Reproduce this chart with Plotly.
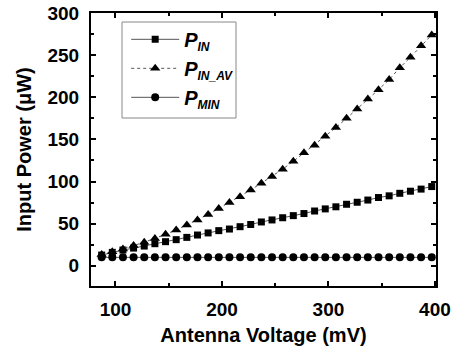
import plotly.graph_objects as go

voltage = [87, 97, 107, 117, 127, 137, 147, 157, 167, 177, 187, 197, 207, 217, 227, 237,
           247, 257, 267, 277, 287, 297, 307, 317, 327, 337, 347, 357, 367, 377, 387, 397]
p_in = [12.7, 15.9, 18.7, 21.0, 23.4, 26.2, 28.6, 31.0, 33.7, 36.5, 39.0, 41.7, 43.6, 46.4,
        49.0, 52.0, 54.4, 57.0, 59.5, 62.0, 65.0, 67.5, 70.0, 73.0, 75.4, 78.0, 81.0, 83.0,
        86.0, 88.5, 91.0, 94.0]
p_in_av = [13.5, 16.7, 20.0, 24.0, 28.0, 32.5, 37.3, 42.5, 48.4, 54.4, 61.0, 68.0, 75.0,
           82.0, 90.0, 98.0, 106.0, 114.7, 124.0, 134.0, 143.0, 153.6, 164.0, 175.0, 186.0,
           198.0, 209.0, 221.0, 235.0, 247.6, 261.0, 274.0]
p_min = [10.0] * len(voltage)

sub = '<sub><span style="font-size:12px">{}</span></sub>'
names = ["P" + sub.format("IN"), "P" + sub.format("IN_AV"), "P" + sub.format("MIN")]

fig = go.Figure()
fig.add_trace(go.Scatter(x=voltage, y=p_in, name=names[0], mode="lines+markers",
                         line=dict(color="#555555", width=1),
                         marker=dict(symbol="square", size=7, color="black")))
fig.add_trace(go.Scatter(x=voltage, y=p_in_av, name=names[1], mode="lines+markers",
                         line=dict(color="#555555", width=1, dash="dot"),
                         marker=dict(symbol="triangle-up", size=9, color="black")))
fig.add_trace(go.Scatter(x=voltage, y=p_min, name=names[2], mode="lines+markers",
                         line=dict(color="#555555", width=1),
                         marker=dict(symbol="circle", size=8, color="black")))

tick_font = dict(family="Liberation Sans, Arial", size=19, color="black", weight="bold")
title_font = dict(family="Liberation Sans, Arial", size=20, color="black", weight="bold")

# legend frame drawn as a rectangle so its edges sit where the reference has them
fig.add_shape(type="rect", xref="paper", yref="paper",
              x0=(122 - 91) / 345, x1=(236 - 91) / 345,
              y0=(286 - 118) / 273, y1=(286 - 22) / 273,
              line=dict(color="#888888", width=1), fillcolor="rgba(0,0,0,0)", layer="above")

fig.update_layout(
    width=456, height=349,
    margin=dict(l=91, r=20, t=13, b=63, autoexpand=False),
    plot_bgcolor="white", paper_bgcolor="white",
    showlegend=True,
    legend=dict(x=0.102, y=0.975, xanchor="left", yanchor="top",
                borderwidth=0, bgcolor="rgba(0,0,0,0)",
                tracegroupgap=0, itemwidth=48,
                font=dict(family="Liberation Sans, Arial", size=20, color="black",
                          weight="bold", style="italic")),
    xaxis=dict(range=[77, 401], tickvals=[100, 200, 300, 400], automargin=False,
               showgrid=False, zeroline=False, ticklabeloverflow="allow",
               showline=True, linecolor="black", linewidth=2, mirror="ticks",
               ticks="inside", ticklen=5, tickwidth=1.5, tickcolor="black",
               ticklabelstandoff=5,
               minor=dict(tickvals=[150, 250, 350], ticks="inside", ticklen=3,
                          tickwidth=1.5, tickcolor="black"),
               tickfont=tick_font,
               title=dict(text="Antenna Voltage (mV)", font=title_font, standoff=9)),
    yaxis=dict(range=[-24, 300], tickvals=[0, 50, 100, 150, 200, 250, 300], automargin=False,
               showgrid=False, zeroline=False, ticklabeloverflow="allow",
               showline=True, linecolor="black", linewidth=2, mirror="ticks",
               ticks="inside", ticklen=5, tickwidth=1.5, tickcolor="black",
               ticklabelstandoff=6,
               minor=dict(tickvals=[25, 75, 125, 175, 225, 275], ticks="inside",
                          ticklen=3, tickwidth=1.5, tickcolor="black"),
               tickfont=tick_font,
               title=dict(text="Input Power (\u03bcW)", font=title_font, standoff=10)),
)

# remove the browser's default 8px page margin so the figure fills the window
fig.write_html("out.html", config={"displayModeBar": False},
               post_script="document.body.style.margin='0';")
